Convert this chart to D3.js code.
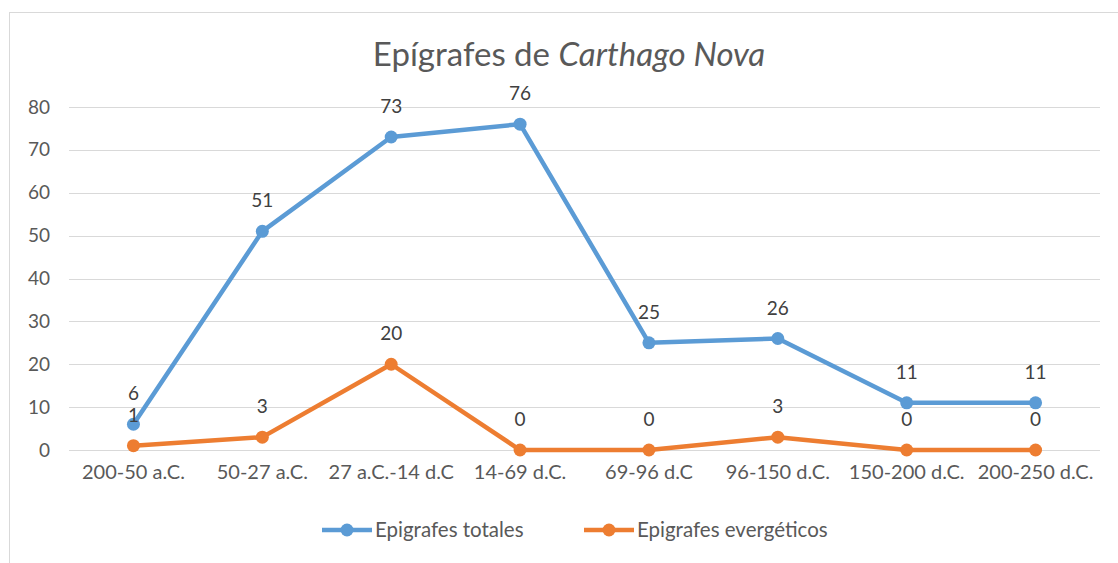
<!DOCTYPE html>
<html>
<head>
<meta charset="utf-8">
<script src="https://cdn.jsdelivr.net/npm/d3@7"></script>
<style>
  body { margin: 0; background: #fff; }
  text { font-family: Lato, "Open Sans", sans-serif; }
</style>
</head>
<body>
<svg id="chart" width="1118" height="563"></svg>
<script>
let periods = ["200-50 a.C.", "50-27 a.C.", "27 a.C.-14 d.C", "14-69 d.C.", "69-96 d.C", "96-150 d.C.", "150-200 d.C.", "200-250 d.C."];
let totales = [6, 51, 73, 76, 25, 26, 11, 11];
let evergeticos = [1, 3, 20, 0, 0, 3, 0, 0];
let seriesNames = ["Epigrafes totales", "Epigrafes evergéticos"];
let seriesColors = ["#5B9BD5", "#ED7D31"];
let yTicks = [0, 10, 20, 30, 40, 50, 60, 70, 80];

let svg = d3.select("#chart");

// chart frame
svg.append("rect").
attr("x", 9.5).
attr("y", 12.5).
attr("width", 1130).
attr("height", 600).
attr("fill", "none").
attr("stroke", "#d9d9d9");

// title
let title = svg.append("text").
attr("x", 569).
attr("y", 66).
attr("text-anchor", "middle").
attr("font-size", 33).
attr("fill", "#595959");
title.append("tspan").text("Epígrafes de ");
title.append("tspan").attr("font-style", "italic").text("Carthago Nova");

// scales
let x = d3.scaleBand().
domain(periods).
range([69, 1100]);

let y = d3.scaleLinear().
domain([0, 80]).
range([450, 107]);

// gridlines
svg.append("g").
selectAll("line").
data(yTicks).
enter().
append("line").
attr("x1", 69).
attr("x2", 1100).
attr("y1", d => Math.round(y(d)) + 0.5).
attr("y2", d => Math.round(y(d)) + 0.5).
attr("stroke", "#d9d9d9").
attr("stroke-width", 1.2);

// y axis
let yAxis = svg.append("g").
attr("transform", "translate(50,0)").
call(d3.axisLeft(y).tickValues(yTicks).tickSize(0).tickPadding(0));
yAxis.select(".domain").remove();
yAxis.selectAll("text").
attr("font-size", 19).
attr("fill", "#595959").
attr("font-family", "Lato, 'Open Sans', sans-serif");

// x axis
let xAxis = svg.append("g").
attr("transform", "translate(0,463)").
call(d3.axisBottom(x).tickSize(0).tickPadding(0));
xAxis.select(".domain").remove();
xAxis.selectAll("text").
attr("font-size", 20).
attr("fill", "#595959").
attr("dy", "0.78em").
attr("font-family", "Lato, 'Open Sans', sans-serif");

// series
let series = [totales, evergeticos];
let line = d3.line().
x((d, i) => x(periods[i]) + x.bandwidth() / 2).
y(d => y(d));

series.forEach((values, s) => {
  let g = svg.append("g");

  g.append("path").
  datum(values).
  attr("d", line).
  attr("fill", "none").
  attr("stroke", seriesColors[s]).
  attr("stroke-width", 4.5).
  attr("stroke-linejoin", "round");

  g.selectAll("circle").
  data(values).
  enter().
  append("circle").
  attr("cx", (d, i) => x(periods[i]) + x.bandwidth() / 2).
  attr("cy", d => y(d)).
  attr("r", 6.5).
  attr("fill", seriesColors[s]);

  g.selectAll("text").
  data(values).
  enter().
  append("text").
  attr("x", (d, i) => x(periods[i]) + x.bandwidth() / 2).
  attr("y", d => y(d) - 24).
  attr("text-anchor", "middle").
  attr("font-size", 19).
  attr("fill", "#404040").
  text(d => d);
});

// legend
let legendX = [322, 584];
let legend = svg.selectAll(".legend").
data(seriesNames).
enter().
append("g").
attr("class", "legend").
attr("transform", (d, i) => "translate(" + legendX[i] + ",530)");

legend.append("line").
attr("x1", 0).
attr("x2", 50).
attr("stroke", (d, i) => seriesColors[i]).
attr("stroke-width", 4.5);

legend.append("circle").
attr("cx", 25).
attr("r", 6.5).
attr("fill", (d, i) => seriesColors[i]);

legend.append("text").
attr("x", 53).
attr("y", 7).
attr("font-size", 20.5).
attr("fill", "#595959").
text(d => d);
</script>
</body>
</html>
